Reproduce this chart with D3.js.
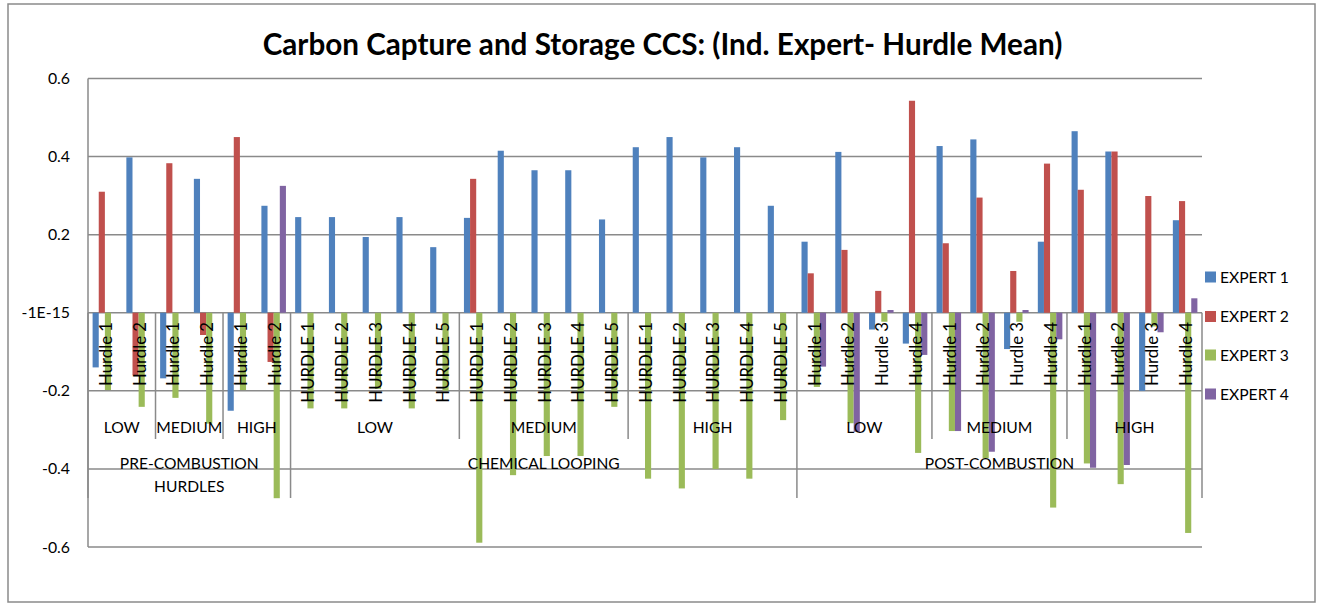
<!DOCTYPE html>
<html>
<head>
<meta charset="utf-8">
<script src="https://cdn.jsdelivr.net/npm/d3@7"></script>
<style>
  html, body { margin: 0; padding: 0; background: #fff; }
  svg { display: block; font-family: Lato, "Open Sans", sans-serif; }
</style>
</head>
<body>
<svg id="chart" width="1318" height="605"></svg>
<script>
// ---------------- DATA ----------------
const title = "Carbon Capture and Storage CCS: (Ind. Expert- Hurdle Mean)";
const categories = [
  "Hurdle 1","Hurdle 2","Hurdle 1","Hurdle 2","Hurdle 1","Hurdle 2",
  "HURDLE 1","HURDLE 2","HURDLE 3","HURDLE 4","HURDLE 5",
  "HURDLE 1","HURDLE 2","HURDLE 3","HURDLE 4","HURDLE 5",
  "HURDLE 1","HURDLE 2","HURDLE 3","HURDLE 4","HURDLE 5",
  "Hurdle 1","Hurdle 2","Hurdle 3","Hurdle 4",
  "Hurdle 1","Hurdle 2","Hurdle 3","Hurdle 4",
  "Hurdle 1","Hurdle 2","Hurdle 3","Hurdle 4"
];
const levelGroups = [["LOW",2],["MEDIUM",2],["HIGH",2],["LOW",5],["MEDIUM",5],["HIGH",5],["LOW",4],["MEDIUM",4],["HIGH",4]];
const techGroups = [[["PRE-COMBUSTION","HURDLES"],6],[["CHEMICAL LOOPING"],15],[["POST-COMBUSTION"],12]];
const seriesNames = ["EXPERT 1","EXPERT 2","EXPERT 3","EXPERT 4"];
const expert1 = [-0.14, 0.398, -0.168, 0.343, -0.251, 0.274,
  0.245, 0.245, 0.194, 0.245, 0.168,
  0.243, 0.415, 0.365, 0.365, 0.239,
  0.424, 0.45, 0.398, 0.424, 0.274,
  0.182, 0.412, -0.043, -0.079,
  0.427, 0.444, -0.093, 0.182,
  0.465, 0.413, -0.2, 0.237];
const expert2 = [0.31, -0.16, 0.383, -0.057, 0.45, -0.126,
  null, null, null, null, null,
  0.343, null, null, null, null,
  null, null, null, null, null,
  0.101, 0.161, 0.056, 0.543,
  0.178, 0.295, 0.107, 0.382,
  0.315, 0.413, 0.299, 0.286];
const expert3 = [-0.198, -0.241, -0.218, -0.284, -0.198, -0.475,
  -0.245, -0.245, -0.195, -0.245, -0.2,
  -0.589, -0.416, -0.367, -0.367, -0.241,
  -0.425, -0.45, -0.4, -0.425, -0.275,
  -0.19, -0.283, -0.023, -0.359,
  -0.303, -0.373, -0.023, -0.499,
  -0.386, -0.439, -0.035, -0.564];
const expert4 = [null, null, null, null, null, 0.325,
  null, null, null, null, null,
  null, null, null, null, null,
  null, null, null, null, null,
  -0.138, -0.305, 0.007, -0.108,
  -0.303, -0.356, 0.007, -0.068,
  -0.397, -0.39, -0.05, 0.037];
const yTickValues = [0.6, 0.4, 0.2, 0, -0.2, -0.4, -0.6];
const yTickLabels = ["0.6","0.4","0.2","-1E-15","-0.2","-0.4","-0.6"];
const colors = ["#4F81BD","#C0504D","#9BBB59","#8064A2"];

// ---------------- CHART ----------------
const series = [expert1, expert2, expert3, expert4];
const svg = d3.select("#chart");
const plot = {left: 88, right: 1202, top: 78.5, bottom: 547};

// measure helper to fit font sizes to the reference text widths
const meas = svg.append("text").attr("x", -1000).attr("y", -1000);
function fitSize(txt, target, weight) {
  meas.attr("font-size", 20).attr("font-weight", weight || "normal").text(txt);
  const w = meas.node().getComputedTextLength();
  return 20 * target / w;
}

// outer border
svg.append("rect").attr("x", 8).attr("y", 4).attr("width", 1307).attr("height", 598)
  .attr("fill", "#fff").attr("stroke", "#8a8a8a").attr("stroke-width", 1.5);

const x = d3.scaleBand().domain(d3.range(categories.length)).range([plot.left, plot.right]).padding(0);
const xs = d3.scaleBand().domain(d3.range(series.length)).range([0, x.bandwidth()]).paddingInner(0).paddingOuter(0.75);
const y = d3.scaleLinear().domain([-0.6, 0.6]).range([plot.bottom, plot.top]);

const gridColor = "#8a8a8a";

// gridlines
svg.append("g").selectAll("line").data(yTickValues).join("line")
  .attr("x1", plot.left).attr("x2", plot.right)
  .attr("y1", d => y(d)).attr("y2", d => y(d))
  .attr("stroke", gridColor).attr("stroke-width", 1.5);

// y axis line
svg.append("line").attr("x1", plot.left).attr("x2", plot.left)
  .attr("y1", y(0.6)).attr("y2", y(-0.6)).attr("stroke", gridColor).attr("stroke-width", 1.5);

// bars
const barData = [];
series.forEach((s, si) => s.forEach((v, ci) => { if (v !== null) barData.push({si, ci, v}); }));
svg.append("g").selectAll("rect").data(barData).join("rect")
  .attr("x", d => x(d.ci) + xs(d.si))
  .attr("width", xs.bandwidth())
  .attr("y", d => y(Math.max(0, d.v)))
  .attr("height", d => Math.abs(y(d.v) - y(0)))
  .attr("fill", d => colors[d.si]);

// category axis separators
const sepG = svg.append("g").attr("stroke", gridColor).attr("stroke-width", 1.5);
let idx = 0;
const lvlBounds = [0];
levelGroups.forEach(g => { idx += g[1]; lvlBounds.push(idx); });
idx = 0;
const techBounds = [0];
techGroups.forEach(g => { idx += g[1]; techBounds.push(idx); });
const xb = i => i >= categories.length ? plot.right : x(i);
lvlBounds.forEach(b => {
  if (techBounds.indexOf(b) >= 0) return;
  sepG.append("line").attr("x1", xb(b)).attr("x2", xb(b)).attr("y1", y(0)).attr("y2", 439);
});
techBounds.forEach(b => {
  sepG.append("line").attr("x1", xb(b)).attr("x2", xb(b)).attr("y1", y(0)).attr("y2", 498);
});

// level-1 labels (rotated)
const l1Size = fitSize("Hurdle 1", 64);
svg.append("g").selectAll("text").data(categories).join("text")
  .attr("transform", (d, i) => `translate(${x(i) + x.bandwidth() / 2 + 1},322) rotate(-90)`)
  .attr("text-anchor", "end").attr("dy", "0.35em")
  .attr("font-size", l1Size).attr("fill", "#000").text(d => d);

// level-2 labels
const l2Size = fitSize("MEDIUM", 66);
svg.append("g").selectAll("text").data(levelGroups).join("text")
  .attr("x", (d, i) => (xb(lvlBounds[i]) + xb(lvlBounds[i + 1])) / 2)
  .attr("y", 433).attr("text-anchor", "middle")
  .attr("font-size", l2Size).attr("fill", "#000").text(d => d[0]);

// level-3 labels
const l3Size = fitSize("PRE-COMBUSTION", 139);
const t3 = svg.append("g").selectAll("text").data(techGroups).join("text")
  .attr("x", (d, i) => (xb(techBounds[i]) + xb(techBounds[i + 1])) / 2)
  .attr("y", 469).attr("text-anchor", "middle")
  .attr("font-size", l3Size).attr("fill", "#000");
t3.each(function(d, i) {
  const cx = (xb(techBounds[i]) + xb(techBounds[i + 1])) / 2;
  d3.select(this).selectAll("tspan").data(d[0]).join("tspan")
    .attr("x", cx).attr("dy", (t, k) => k === 0 ? 0 : 22.5).text(t => t);
});

// y tick labels
const ySize = fitSize("-0.4", 28);
svg.append("g").selectAll("text").data(yTickValues).join("text")
  .attr("x", 70).attr("y", d => y(d)).attr("dy", "0.35em")
  .attr("text-anchor", "end").attr("font-size", ySize).attr("fill", "#000")
  .text((d, i) => yTickLabels[i]);

// title
const tSize = fitSize(title, 800, "bold");
svg.append("text").attr("x", 662.5).attr("y", 55).attr("text-anchor", "middle")
  .attr("font-size", tSize).attr("font-weight", "bold").attr("fill", "#000").text(title);

// legend
const legSize = fitSize("EXPERT 1", 69);
const legY = [277, 316.5, 355, 394];
const leg = svg.append("g").selectAll("g").data(seriesNames).join("g")
  .attr("transform", (d, i) => `translate(1205,${legY[i]})`);
leg.append("rect").attr("x", 0).attr("y", -5.5).attr("width", 11).attr("height", 11)
  .attr("fill", (d, i) => colors[i]);
leg.append("text").attr("x", 15).attr("dy", "0.36em").attr("font-size", legSize)
  .attr("fill", "#000").text(d => d);

meas.remove();
</script>
</body>
</html>
